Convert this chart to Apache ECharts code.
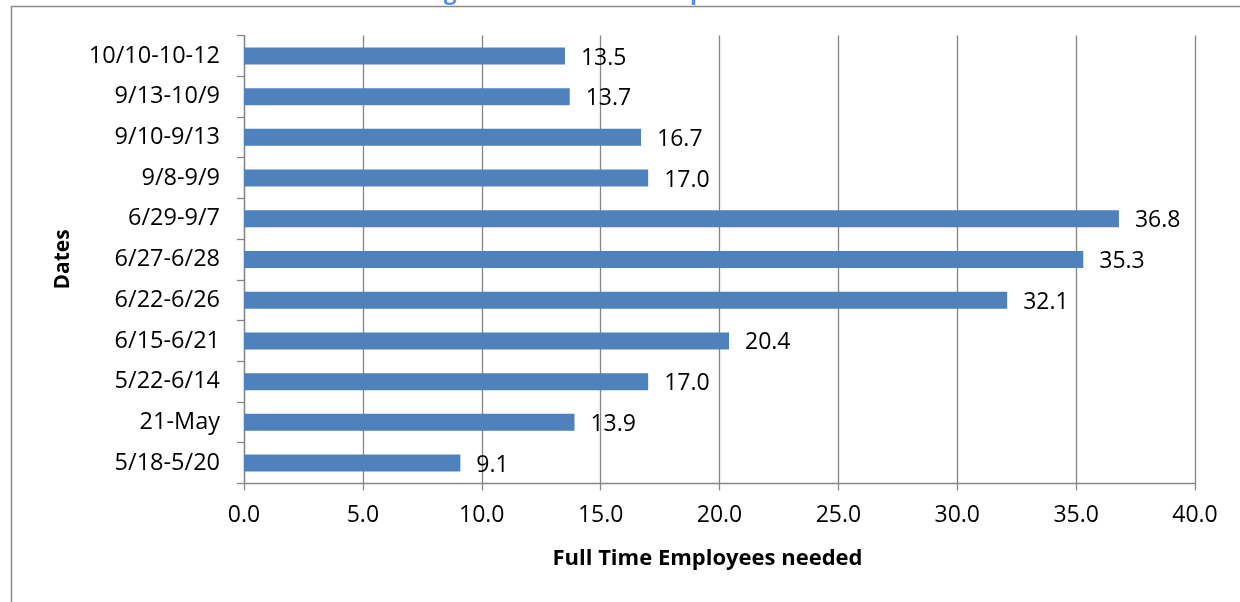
<!DOCTYPE html>
<html><head><meta charset="utf-8">
<script src="https://cdn.jsdelivr.net/npm/echarts@6/dist/echarts.min.js"></script>
<style>html,body{margin:0;padding:0;background:#fff}#c{width:1240px;height:602px}</style>
</head><body><div id="c"></div>
<script>
const categories = ["5/18-5/20","21-May","5/22-6/14","6/15-6/21","6/22-6/26","6/27-6/28","6/29-9/7","9/8-9/9","9/10-9/13","9/13-10/9","10/10-10-12"];
const values = [9.1,13.9,17.0,20.4,32.1,35.3,36.8,17.0,16.7,13.7,13.5];
const xTicks = {min:0,max:40,interval:5};
const titleText = "Figure 1: Workforce Requirements";
const xName = "Full Time Employees needed";
const yName = "Dates";

const FONT = "Open Sans";
const GRID = "#868686";
const chart = echarts.init(document.getElementById('c'), null, {renderer:'canvas'});
chart.setOption({
  animation:false,
  backgroundColor:'#fff',
  textStyle:{fontFamily:FONT},
  title:{text:titleText,left:'center',top:-24,textStyle:{fontFamily:FONT,fontSize:23,fontWeight:'bold',color:'#5b8fd6'}},
  graphic:[{type:'polyline',shape:{points:[[11.5,610],[11.5,6.5],[1250,6.5]]},style:{stroke:'#8a8a8a',lineWidth:1.5,fill:null},silent:true}],
  grid:{left:244,right:45,top:35.6,bottom:602-483.4,containLabel:false},
  xAxis:{type:'value',min:xTicks.min,max:xTicks.max,interval:xTicks.interval,
    name:xName,nameLocation:'middle',nameGap:64,
    nameTextStyle:{fontFamily:FONT,fontSize:22,fontWeight:'bold',color:'#000',padding:[0,24,0,0]},
    axisLine:{show:true,lineStyle:{color:GRID,width:1.3}},
    axisTick:{show:true,length:7,inside:false,lineStyle:{color:GRID,width:1.3}},
    axisLabel:{color:'#000',fontSize:23,fontFamily:FONT,margin:21,formatter:v=>v.toFixed(1)},
    splitLine:{show:true,lineStyle:{color:GRID,width:1.3}}},
  yAxis:{type:'category',data:categories,boundaryGap:true,
    name:yName,nameLocation:'middle',nameGap:170,nameRotate:90,
    nameTextStyle:{fontFamily:FONT,fontSize:21,fontWeight:'bold',color:'#000'},
    axisLine:{show:true,lineStyle:{color:GRID,width:1.3}},
    axisTick:{show:true,length:7,alignWithLabel:false,lineStyle:{color:GRID,width:1.3}},
    axisLabel:{color:'#000',fontSize:23.5,fontFamily:FONT,margin:24},
    splitLine:{show:false}},
  series:[{type:'bar',data:values,barWidth:17,
    itemStyle:{color:'#4f81bd'},
    label:{show:true,position:'right',distance:16,offset:[0,2],color:'#000',fontSize:23,fontFamily:FONT,formatter:p=>p.value.toFixed(1)}}]
});
</script></body></html>
